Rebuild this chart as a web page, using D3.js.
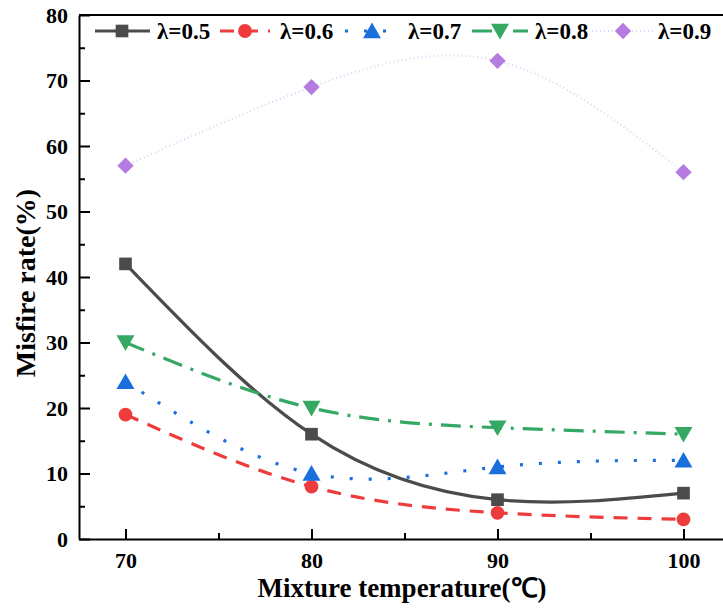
<!DOCTYPE html>
<html><head><meta charset="utf-8">
<script src="https://cdn.jsdelivr.net/npm/d3@7"></script>
<style>body{margin:0;background:#fff}svg{display:block}</style>
</head><body>
<svg id="c" width="723" height="608"></svg>
<script>
const temps = [70, 80, 90, 100];
const lam05 = [42, 16, 6, 7];
const lam06 = [19, 8, 4, 3];
const lam07 = [24, 10, 11, 12];
const lam08 = [30, 20, 17, 16];
const lam09 = [57, 69, 73, 56];
const yTicks = [0, 10, 20, 30, 40, 50, 60, 70, 80];
const xTicks = [70, 80, 90, 100];
const seriesNames = ["λ=0.5", "λ=0.6", "λ=0.7", "λ=0.8", "λ=0.9"];

const series = [
  {name: seriesNames[0], vals: lam05, color: "#4b4b4b", dash: null, sym: d3.symbolSquare, size: 160, lw: 3.2, rot: 0},
  {name: seriesNames[1], vals: lam06, color: "#ee3c3c", dash: "14,10", sym: d3.symbolCircle, size: 150, lw: 3.2, rot: 0},
  {name: seriesNames[2], vals: lam07, color: "#1b6fdd", dash: "3,16", sym: d3.symbolTriangle, size: 140, lw: 3.2, rot: 0},
  {name: seriesNames[3], vals: lam08, color: "#35a863", dash: "20,9,3,9", sym: d3.symbolTriangle, size: 140, lw: 3.2, rot: 180},
  {name: seriesNames[4], vals: lam09, color: "#b57be0", dash: "1,3", sym: d3.symbolDiamond2, size: 170, lw: 2, rot: 0, lineColor: "#d9d3f5"}
];

const svg = d3.select("#c");
const L = 79, R = 730, T = 15, B = 539;
const x = d3.scaleLinear().domain([67.5, 102.5]).range([L, R]);
const y = d3.scaleLinear().domain([0, 80]).range([B, T]);
const font = "'Liberation Serif','Times New Roman',serif";

// frame top
svg.append("line").attr("x1", L).attr("x2", 723).attr("y1", T).attr("y2", T)
  .attr("stroke", "#000").attr("stroke-width", 2);

// lines
const line = d3.line().x((d, i) => x(temps[i])).y(d => y(d)).curve(d3.curveNatural);
series.forEach(s => {
  svg.append("path").attr("d", line(s.vals)).attr("fill", "none")
    .attr("stroke", s.lineColor || s.color).attr("stroke-width", s.lw)
    .attr("stroke-dasharray", s.dash);
});
series.forEach(s => {
  svg.selectAll(null).data(s.vals).enter().append("path")
    .attr("d", d3.symbol().type(s.sym).size(s.size)())
    .attr("transform", (d, i) => `translate(${x(temps[i])},${y(d) + (s.sym === d3.symbolTriangle ? (s.rot ? -2 : 2) : 0)}) rotate(${s.rot})`)
    .attr("fill", s.color);
});

// axes
const xAxis = d3.axisBottom(x).tickValues(xTicks).tickSizeInner(-10).tickSizeOuter(0).tickPadding(13);
const gx = svg.append("g").attr("transform", `translate(0,${B})`).call(xAxis);
const xMinor = d3.axisBottom(x).tickValues([75, 85, 95]).tickSizeInner(-6).tickSizeOuter(0).tickFormat("");
svg.append("g").attr("transform", `translate(0,${B})`).call(xMinor).select(".domain").remove();
const yAxis = d3.axisLeft(y).tickValues(yTicks).tickSizeInner(-11).tickSizeOuter(0).tickPadding(11);
const gy = svg.append("g").attr("transform", `translate(${L},0)`).call(yAxis);
const yMinor = d3.axisLeft(y).tickValues([5, 15, 25, 35, 45, 55, 65, 75]).tickSizeInner(-6).tickSizeOuter(0).tickFormat("");
svg.append("g").attr("transform", `translate(${L},0)`).call(yMinor).select(".domain").remove();
svg.selectAll(".domain").attr("stroke-width", 2).attr("stroke", "#000");
svg.selectAll(".tick line").attr("stroke-width", 2).attr("stroke", "#000");
svg.selectAll(".tick text").attr("font-family", font).attr("font-weight", "bold")
  .attr("font-size", 22).attr("fill", "#000");

// axis titles
svg.append("text").attr("x", 402).attr("y", 597).attr("text-anchor", "middle")
  .attr("font-family", font).attr("font-weight", "bold").attr("font-size", 27)
  .text("Mixture temperature(℃)");
svg.append("text").attr("transform", "translate(35,283) rotate(-90)").attr("text-anchor", "middle")
  .attr("font-family", font).attr("font-weight", "bold").attr("font-size", 28)
  .text("Misfire rate(%)");

// legend
const legY = 31;
const legItems = [
  {x1: 95, x2: 150, mx: 122, tx: 157},
  {x1: 220, x2: 270, mx: 245, tx: 280},
  {x1: 345, x2: 398, mx: 372, tx: 408},
  {x1: 472, x2: 528, mx: 500, tx: 535},
  {x1: 592, x2: 655, mx: 623, tx: 658}
];
series.forEach((s, i) => {
  const p = legItems[i];
  svg.append("line").attr("x1", p.x1).attr("x2", p.x2).attr("y1", legY).attr("y2", legY)
    .attr("stroke", s.lineColor || s.color).attr("stroke-width", s.lw)
    .attr("stroke-dasharray", s.dash);
  svg.append("path").attr("d", d3.symbol().type(s.sym).size(s.size)())
    .attr("transform", `translate(${p.mx},${legY + (s.sym === d3.symbolTriangle ? (s.rot ? -2 : 2) : 0)}) rotate(${s.rot})`)
    .attr("fill", s.color);
  svg.append("text").attr("x", p.tx).attr("y", legY).attr("dy", "0.35em")
    .attr("font-family", font).attr("font-weight", "bold").attr("font-size", 23)
    .text(s.name);
});
</script>
</body></html>
